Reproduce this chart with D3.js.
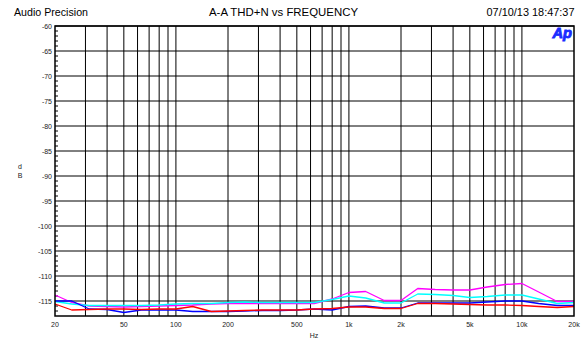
<!DOCTYPE html>
<html>
<head>
<meta charset="utf-8">
<script src="https://cdn.jsdelivr.net/npm/d3@7"></script>
<style>
  html, body { margin: 0; padding: 0; background: #fff; }
  svg { display: block; font-family: "Liberation Sans", Arial, sans-serif; }
</style>
</head>
<body>
<svg id="chart" width="582" height="360"></svg>
<script>
// Sweep frequencies (Hz), 1/3-octave steps
const freqs = [20, 25, 31.5, 40, 50, 63, 80, 100, 125, 160, 200, 250, 315, 400, 500, 630,
  800, 1000, 1250, 1600, 2000, 2500, 3150, 4000, 5000, 6300, 8000, 10000, 12500, 16000, 20000];

// THD+N readings (dB) per channel
const magentaDb = [-113.8, -115.3, -116.0, -116.1, -116.2, -116.1, -116.0, -115.9, -115.8, -115.6, -115.5,
  -115.5, -115.5, -115.5, -115.5, -115.5, -114.6, -113.3, -113.1, -114.9, -114.9, -112.5, -112.7, -112.8,
  -112.8, -112.2, -111.7, -111.5, -113.2, -115.1, -115.1];
const cyanDb = [-115.1, -115.6, -115.9, -115.9, -115.9, -115.9, -115.8, -115.6, -115.5, -115.5, -115.3,
  -115.2, -115.3, -115.3, -115.3, -115.3, -114.7, -114.0, -114.4, -115.4, -115.4, -113.6, -113.7, -113.9,
  -114.3, -114.1, -113.8, -113.8, -114.6, -115.5, -115.3];
const blueDb = [-115.0, -115.0, -116.6, -116.7, -117.3, -116.8, -116.8, -116.8, -117.1, -117.1, -117.1,
  -117.0, -116.9, -116.9, -116.8, -116.6, -116.8, -116.1, -116.0, -116.4, -116.4, -115.4, -115.4, -115.4,
  -115.4, -115.2, -115.0, -115.0, -115.5, -115.9, -115.9];
const redDb = [-115.6, -116.8, -116.7, -116.6, -116.6, -116.7, -116.6, -116.6, -116.1, -117.1, -117.0,
  -116.9, -116.8, -116.8, -116.8, -116.6, -116.5, -116.2, -116.2, -116.5, -116.5, -115.5, -115.5, -115.6,
  -115.7, -115.8, -115.8, -115.9, -116.1, -116.3, -116.1];

const yTicks = [-60, -65, -70, -75, -80, -85, -90, -95, -100, -105, -110, -115];
const xTickValues = [20, 50, 100, 200, 500, 1000, 2000, 5000, 10000, 20000];
const xTickLabels = ["20", "50", "100", "200", "500", "1k", "2k", "5k", "10k", "20k"];

const series = [
  { name: "Ch A", color: "#ff00ff", values: magentaDb },
  { name: "Ch B", color: "#00ffff", values: cyanDb },
  { name: "Ch C", color: "#0000ff", values: blueDb },
  { name: "Ch D", color: "#ff0000", values: redDb }
];

const svg = d3.select("#chart");
const plotL = 55, plotR = 574, plotT = 26, plotB = 316;

const x = d3.scaleLog().domain([20, 20000]).range([plotL, plotR]);
const y = d3.scaleLinear().domain([-60, -118]).range([plotT, plotB]);

// Header texts
svg.append("text").attr("x", 14).attr("y", 16).attr("font-size", 10.5).attr("fill", "#000")
  .attr("textLength", 74).attr("lengthAdjust", "spacingAndGlyphs").text("Audio Precision");
svg.append("text").attr("x", 209).attr("y", 16).attr("font-size", 10.5).attr("fill", "#000")
  .attr("textLength", 149).attr("lengthAdjust", "spacingAndGlyphs").text("A-A THD+N vs FREQUENCY");
svg.append("text").attr("x", 486.5).attr("y", 16).attr("font-size", 10.5).attr("fill", "#000")
  .attr("textLength", 88).attr("lengthAdjust", "spacingAndGlyphs").text("07/10/13 18:47:37");

// Vertical grid at every 1-2-…-9 decade step
const vGrid = [];
[10, 100, 1000, 10000].forEach(dec => {
  for (let m = 1; m <= 9; m++) {
    const f = dec * m;
    if (f > 20 && f < 20000) vGrid.push(f);
  }
});
svg.append("g").selectAll("line").data(vGrid).join("line")
  .attr("x1", d => x(d)).attr("x2", d => x(d))
  .attr("y1", plotT).attr("y2", plotB)
  .attr("stroke", "#000").attr("stroke-width", 1);

// Horizontal grid every 5 dB
svg.append("g").selectAll("line").data(yTicks).join("line")
  .attr("x1", plotL).attr("x2", plotR)
  .attr("y1", d => y(d)).attr("y2", d => y(d))
  .attr("stroke", "#000").attr("stroke-width", 1);

// Minor ticks every 1 dB on the left edge
const minor = d3.range(-61, -118, -1).filter(v => v % 5 !== 0);
svg.append("g").selectAll("line").data(minor).join("line")
  .attr("x1", plotL).attr("x2", plotL + 3)
  .attr("y1", d => y(d)).attr("y2", d => y(d))
  .attr("stroke", "#000").attr("stroke-width", 1);

// Traces
const line = d3.line().x((d, i) => x(freqs[i])).y(d => y(d));
svg.append("g").selectAll("path").data(series).join("path")
  .attr("d", d => line(d.values))
  .attr("fill", "none").attr("stroke", d => d.color).attr("stroke-width", 1.3)
  .attr("stroke-linejoin", "round");

// Frame
svg.append("rect").attr("x", plotL).attr("y", plotT)
  .attr("width", plotR - plotL).attr("height", plotB - plotT)
  .attr("fill", "none").attr("stroke", "#000").attr("stroke-width", 1.5);

// Y axis labels
svg.append("g").selectAll("text").data(yTicks).join("text")
  .attr("x", plotL - 3).attr("y", d => y(d) + 2.5)
  .attr("text-anchor", "end").attr("font-size", 7).attr("fill", "#222")
  .text(d => d);

// X axis labels
svg.append("g").selectAll("text").data(xTickValues).join("text")
  .attr("x", d => x(d)).attr("y", 327)
  .attr("text-anchor", "middle").attr("font-size", 7).attr("fill", "#222")
  .text((d, i) => xTickLabels[i]);

// Axis titles
svg.append("text").attr("x", 314).attr("y", 338).attr("text-anchor", "middle")
  .attr("font-size", 7).attr("fill", "#222").text("Hz");
svg.append("text").attr("x", 20).attr("y", 169).attr("text-anchor", "middle")
  .attr("font-size", 7).attr("fill", "#222").text("d");
svg.append("text").attr("x", 20).attr("y", 178).attr("text-anchor", "middle")
  .attr("font-size", 7).attr("fill", "#222").text("B");

// Logo
svg.append("text").attr("x", 552.5).attr("y", 38).attr("font-size", 14)
  .attr("font-weight", "bold").attr("font-style", "italic")
  .attr("fill", "#1a2cff").attr("stroke", "#1a2cff").attr("stroke-width", 0.9)
  .attr("textLength", 19.5).attr("lengthAdjust", "spacingAndGlyphs").text("Ap");
</script>
</body>
</html>
